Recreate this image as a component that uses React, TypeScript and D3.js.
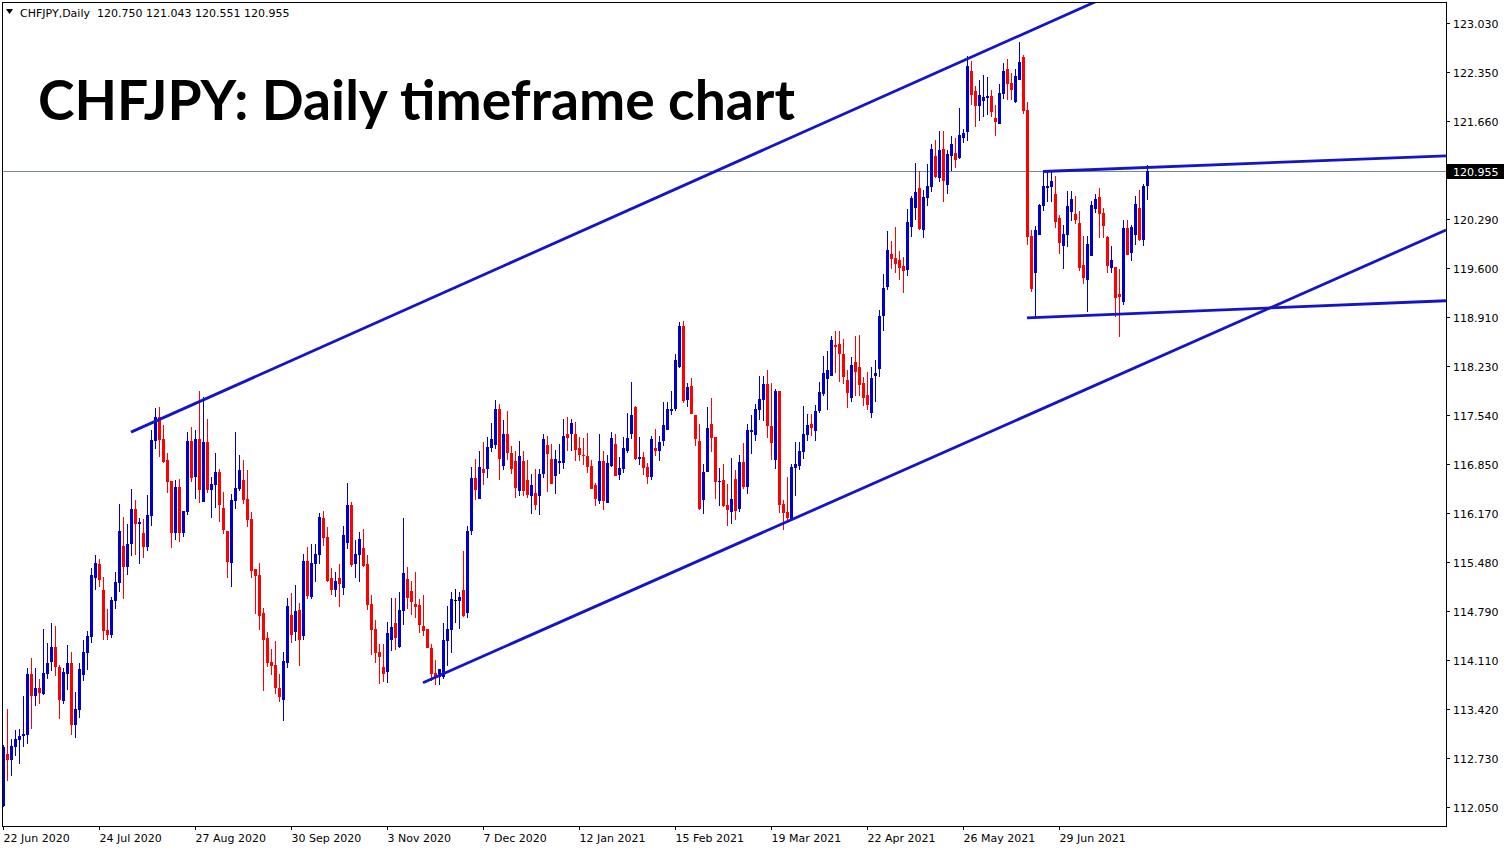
import React from 'react';
import * as d3 from 'd3';

// daily candles [open, high, low, close], 22 Jun 2020 onwards
const ohlc: [number, number, number, number][] = [
  [112.07, 112.92, 112.05, 112.89], [112.79, 113.42, 112.42, 112.71], [112.71, 113.00, 112.49, 112.91],
  [112.89, 113.13, 112.77, 113.00], [112.99, 113.14, 112.65, 113.05], [113.05, 113.61, 112.89, 113.07],
  [113.06, 114.00, 112.93, 113.91], [113.91, 114.14, 113.14, 113.61], [113.61, 114.00, 113.47, 113.71],
  [113.71, 113.84, 113.49, 113.65], [113.63, 114.54, 113.62, 113.93], [113.91, 114.35, 113.84, 114.07],
  [114.08, 114.63, 113.96, 114.29], [114.29, 114.59, 113.89, 114.01], [114.01, 114.04, 113.28, 113.55],
  [113.54, 114.00, 113.49, 113.94], [113.91, 114.32, 113.69, 114.07], [114.07, 114.22, 113.06, 113.20],
  [113.20, 113.66, 113.02, 113.42], [113.41, 114.07, 113.30, 113.98], [113.90, 114.39, 113.82, 114.22],
  [114.21, 114.52, 113.97, 114.45], [114.43, 115.40, 114.35, 115.30], [115.26, 115.58, 115.09, 115.47],
  [115.45, 115.52, 115.13, 115.23], [115.09, 115.27, 114.39, 114.52], [114.53, 114.83, 114.39, 114.46],
  [114.46, 114.99, 114.41, 114.95], [114.94, 115.34, 114.83, 115.20], [115.19, 116.29, 115.06, 115.92],
  [115.71, 116.11, 114.97, 115.41], [115.41, 116.02, 115.30, 115.74], [115.74, 116.50, 115.57, 116.22],
  [116.22, 116.35, 115.58, 116.02], [116.02, 116.10, 115.45, 116.04], [115.89, 116.08, 115.54, 115.69],
  [115.69, 116.42, 115.64, 116.14], [116.13, 117.33, 115.99, 117.19], [117.18, 117.64, 117.07, 117.51],
  [117.51, 117.65, 116.95, 117.19], [117.20, 117.40, 116.87, 116.88], [116.91, 117.01, 116.45, 116.60],
  [116.62, 116.62, 115.68, 115.89], [115.89, 116.63, 115.79, 116.53], [116.53, 116.64, 115.76, 115.89],
  [115.89, 116.20, 115.83, 116.20], [116.18, 117.30, 116.14, 117.18], [117.18, 117.37, 116.60, 116.66],
  [116.67, 117.33, 116.37, 117.21], [117.21, 117.88, 116.31, 116.49], [116.32, 117.79, 116.32, 117.16],
  [117.16, 117.49, 116.45, 116.49], [116.49, 116.67, 116.10, 116.58], [116.56, 117.01, 116.24, 116.74],
  [116.74, 116.79, 116.04, 116.28], [116.24, 116.46, 115.87, 115.93], [115.92, 115.92, 115.26, 115.48],
  [115.47, 116.44, 115.13, 116.35], [116.34, 117.30, 116.22, 116.52], [116.50, 116.98, 116.48, 116.77],
  [116.63, 116.91, 116.29, 116.35], [116.37, 116.77, 115.97, 116.07], [116.08, 116.18, 115.26, 115.36],
  [115.38, 115.38, 114.75, 115.29], [115.30, 115.47, 114.53, 114.73], [114.77, 114.84, 113.68, 114.39],
  [114.41, 114.50, 114.01, 114.07], [114.08, 114.26, 113.90, 114.03], [114.04, 114.38, 113.63, 113.71],
  [113.72, 113.91, 113.52, 113.59], [113.55, 114.22, 113.26, 114.10], [114.06, 114.98, 114.00, 114.87],
  [114.74, 115.05, 114.35, 114.46], [114.50, 115.16, 114.38, 114.80], [114.81, 114.91, 114.03, 114.39],
  [114.45, 115.60, 114.39, 115.50], [115.50, 115.69, 114.97, 115.01], [114.99, 115.74, 114.97, 115.47],
  [115.45, 115.74, 115.20, 115.60], [115.58, 116.17, 115.45, 116.11], [116.10, 116.20, 115.71, 115.82],
  [115.83, 115.97, 115.20, 115.22], [115.26, 115.40, 115.02, 115.09], [115.09, 115.34, 114.99, 115.22],
  [115.26, 115.45, 114.85, 115.18], [115.12, 115.99, 115.02, 115.86], [115.75, 116.59, 115.67, 116.28],
  [116.28, 116.32, 115.41, 115.44], [115.45, 115.79, 115.26, 115.60], [115.58, 115.90, 115.20, 115.81],
  [115.68, 115.95, 115.41, 115.43], [115.45, 115.58, 114.81, 114.88], [114.89, 115.02, 114.18, 114.53],
  [114.54, 114.67, 114.07, 114.21], [114.22, 114.33, 113.77, 114.15], [114.01, 114.33, 113.80, 113.91],
  [113.94, 114.64, 113.79, 114.48], [114.39, 114.98, 114.24, 114.57], [114.63, 114.98, 114.25, 114.42],
  [114.29, 115.06, 114.27, 114.81], [114.80, 116.10, 114.60, 115.33], [115.25, 115.41, 114.83, 114.98],
  [115.08, 115.22, 114.74, 114.92], [114.89, 115.34, 114.70, 114.85], [114.88, 114.97, 114.49, 114.60],
  [114.59, 115.02, 114.45, 114.52], [114.54, 114.54, 114.27, 114.27], [114.28, 114.33, 113.82, 113.91],
  [113.93, 114.11, 113.76, 113.87], [113.87, 113.98, 113.76, 113.98], [113.87, 114.62, 113.84, 114.39],
  [114.38, 114.87, 114.03, 114.54], [114.53, 115.06, 114.21, 114.97], [114.95, 115.11, 114.63, 114.95],
  [114.94, 115.06, 114.54, 114.99], [115.09, 115.64, 114.71, 114.73], [114.77, 115.99, 114.69, 115.92],
  [115.92, 116.81, 115.86, 116.66], [116.66, 116.92, 116.35, 116.49], [116.37, 117.04, 116.37, 116.81],
  [116.79, 117.16, 116.56, 116.73], [116.79, 117.23, 116.66, 117.09], [117.08, 117.43, 117.02, 117.20],
  [117.12, 117.75, 117.07, 117.62], [117.62, 117.69, 116.63, 116.92], [116.83, 117.47, 116.77, 117.27],
  [117.27, 117.60, 116.91, 117.01], [117.01, 117.11, 116.71, 116.79], [116.90, 117.04, 116.38, 116.52],
  [116.48, 117.18, 116.41, 116.97], [116.90, 117.04, 116.41, 116.48], [116.63, 116.91, 116.38, 116.42],
  [116.41, 116.71, 116.15, 116.56], [116.45, 116.79, 116.21, 116.28], [116.41, 116.79, 116.14, 116.71],
  [116.71, 117.27, 116.66, 117.20], [117.12, 117.25, 116.46, 116.99], [116.92, 117.13, 116.58, 116.58],
  [116.69, 117.05, 116.43, 116.92], [116.87, 117.13, 116.71, 116.90], [116.87, 117.49, 116.79, 117.25],
  [117.27, 117.51, 117.04, 117.22], [117.27, 117.49, 117.04, 117.43], [117.27, 117.44, 116.90, 117.05],
  [117.08, 117.23, 116.90, 116.98], [116.98, 117.22, 116.84, 116.97], [116.97, 117.29, 116.73, 116.81],
  [116.83, 116.91, 116.50, 116.50], [116.56, 116.59, 116.27, 116.37], [116.34, 117.27, 116.29, 116.90],
  [116.90, 117.04, 116.21, 116.34], [116.31, 116.98, 116.31, 116.87], [116.83, 117.30, 116.81, 117.22],
  [117.13, 117.27, 116.69, 116.69], [116.70, 116.95, 116.63, 116.80], [116.79, 117.23, 116.73, 117.08],
  [117.04, 117.57, 117.01, 117.22], [117.27, 118.00, 117.20, 117.54], [117.65, 117.67, 116.91, 116.92],
  [116.92, 117.23, 116.84, 116.95], [116.95, 117.02, 116.70, 116.80], [116.81, 116.87, 116.58, 116.67],
  [116.67, 117.25, 116.63, 117.20], [117.08, 117.35, 116.97, 117.04], [117.04, 117.25, 116.90, 117.16],
  [117.18, 117.72, 117.11, 117.40], [117.33, 117.72, 117.33, 117.62], [117.60, 117.88, 117.54, 117.62],
  [117.62, 118.39, 117.60, 118.31], [118.21, 118.84, 118.20, 118.79], [118.79, 118.86, 117.71, 117.74],
  [117.75, 117.99, 117.65, 117.93], [117.95, 118.06, 117.56, 117.56], [117.54, 117.54, 117.11, 117.20],
  [117.18, 117.42, 116.21, 116.22], [116.35, 116.85, 116.15, 116.74], [116.74, 117.65, 116.74, 117.36],
  [117.42, 117.78, 117.02, 117.22], [117.23, 117.23, 116.37, 116.60], [116.60, 116.80, 116.27, 116.62],
  [116.63, 116.85, 116.25, 116.27], [116.28, 116.58, 115.99, 116.21], [116.18, 116.94, 116.02, 116.37],
  [116.64, 116.77, 116.07, 116.20], [116.22, 116.98, 116.18, 116.88], [116.88, 117.15, 116.50, 116.53],
  [116.53, 117.42, 116.44, 117.33], [117.30, 117.54, 116.99, 117.33], [117.26, 117.69, 117.18, 117.62],
  [117.61, 118.09, 117.47, 117.76], [117.75, 118.09, 117.46, 117.97], [117.97, 118.17, 117.22, 117.39],
  [117.39, 117.99, 116.91, 117.15], [116.91, 117.90, 116.79, 117.88], [117.88, 117.88, 116.17, 116.28],
  [116.29, 116.35, 115.93, 116.17], [116.18, 116.67, 116.07, 116.10], [116.07, 116.85, 116.07, 116.81],
  [116.80, 117.16, 116.41, 116.85], [116.83, 117.16, 116.77, 117.04], [117.02, 117.67, 116.92, 117.27],
  [117.26, 117.56, 117.18, 117.40], [117.42, 117.56, 117.25, 117.36], [117.32, 117.68, 117.18, 117.60],
  [117.60, 118.00, 117.57, 117.86], [117.83, 118.37, 117.81, 118.13], [118.05, 118.44, 117.61, 118.17],
  [118.09, 118.65, 118.09, 118.59], [118.52, 118.72, 118.13, 118.49], [118.54, 118.72, 118.00, 118.40],
  [118.40, 118.61, 117.97, 118.07], [118.03, 118.17, 117.64, 117.85], [117.78, 118.35, 117.72, 118.24],
  [118.28, 118.65, 117.81, 118.14], [118.21, 118.66, 117.81, 117.96], [117.99, 118.07, 117.67, 117.78],
  [117.82, 118.14, 117.61, 117.68], [117.57, 118.21, 117.50, 118.06], [118.09, 118.31, 117.72, 118.13],
  [118.19, 119.01, 118.07, 118.93], [118.93, 119.52, 118.72, 119.32], [119.33, 120.12, 119.29, 119.85],
  [119.80, 119.98, 119.59, 119.73], [119.74, 120.17, 119.53, 119.66], [119.71, 119.83, 119.43, 119.60],
  [119.63, 119.75, 119.25, 119.56], [119.57, 120.43, 119.49, 120.24], [120.17, 120.61, 120.03, 120.58],
  [120.44, 121.07, 120.27, 120.66], [120.72, 120.96, 120.13, 120.15], [120.13, 120.69, 120.02, 120.59],
  [120.58, 121.06, 120.47, 120.75], [120.73, 121.34, 120.66, 121.27], [121.17, 121.39, 120.86, 120.87],
  [120.86, 121.52, 120.80, 121.25], [121.27, 121.52, 120.52, 120.82], [120.76, 121.25, 120.64, 121.20],
  [121.17, 121.45, 120.96, 121.34], [121.21, 121.42, 121.00, 121.11], [121.14, 121.84, 121.13, 121.46],
  [121.42, 121.54, 121.35, 121.49], [121.50, 122.57, 121.38, 122.43], [122.36, 122.50, 121.88, 122.02],
  [122.08, 122.15, 121.57, 121.87], [121.87, 122.23, 121.66, 122.02], [121.94, 122.30, 121.71, 121.99],
  [121.98, 122.27, 121.74, 122.01], [122.01, 122.09, 121.71, 121.78], [121.70, 121.88, 121.45, 121.64],
  [121.62, 122.18, 121.62, 122.05], [122.04, 122.47, 121.97, 122.36], [122.39, 122.53, 121.95, 122.18],
  [122.19, 122.33, 121.95, 122.09], [121.92, 122.39, 121.91, 122.29], [122.23, 122.76, 122.23, 122.48],
  [122.55, 122.58, 121.76, 121.80], [121.81, 121.92, 119.92, 120.03], [120.05, 120.13, 119.26, 119.31],
  [119.53, 120.19, 118.91, 120.13], [120.06, 120.50, 120.06, 120.48], [120.47, 120.96, 120.40, 120.75],
  [120.72, 120.96, 120.52, 120.75], [120.73, 120.96, 120.52, 120.82], [120.64, 120.89, 120.16, 120.24],
  [120.30, 120.34, 119.80, 119.95], [119.91, 120.20, 119.59, 120.08], [120.06, 120.68, 119.89, 120.47],
  [120.38, 120.68, 120.26, 120.57], [120.36, 120.61, 120.22, 120.27], [120.23, 120.40, 119.56, 119.60],
  [119.64, 120.05, 119.38, 119.46], [119.43, 120.05, 118.98, 119.94], [119.77, 120.54, 119.77, 120.48],
  [120.43, 120.64, 120.37, 120.57], [120.59, 120.72, 120.02, 120.36], [120.37, 120.44, 120.02, 120.19],
  [120.03, 120.05, 119.53, 119.63], [119.60, 119.91, 119.53, 119.71], [119.61, 119.61, 118.91, 119.18],
  [119.24, 119.59, 118.63, 119.19], [119.12, 120.27, 119.08, 120.16], [120.16, 120.27, 119.78, 119.78],
  [119.81, 120.20, 119.70, 120.17], [120.06, 120.61, 119.92, 120.50], [120.44, 120.69, 119.98, 119.99],
  [119.99, 120.78, 119.91, 120.75], [120.75, 121.043, 120.551, 120.955],
];

const dateLabels = ['22 Jun 2020', '24 Jul 2020', '27 Aug 2020', '30 Sep 2020', '3 Nov 2020', '7 Dec 2020',
  '12 Jan 2021', '15 Feb 2021', '19 Mar 2021', '22 Apr 2021', '26 May 2021', '29 Jun 2021'];
const dateBars = [0, 24, 48, 72, 96, 120, 144, 168, 192, 216, 240, 264];

const priceTicks = ['123.030', '122.350', '121.660', '120.290', '119.600', '118.910', '118.230', '117.540',
  '116.850', '116.170', '115.480', '114.790', '114.110', '113.420', '112.730', '112.050'];

const lastPrice = 120.955;

// drawn lines: [[bar, price], [bar, price]]
const trendLines: [number, number][][] = [
  [[32, 117.30], [300, 124.00]],
  [[105, 113.79], [360.75, 120.13]],
  [[260, 120.95], [360.75, 121.17]],
  [[256, 118.90], [360.75, 119.14]],
];

const BLUE = '#0000CD';
const RED = '#FF0000';
const LINE_BLUE = '#1414C8';

const App = () => {
  const W = 1510;
  const H = 850;
  const left = 2, right = 1446, top = 2, bottom = 826;

  const x = d3.scaleLinear().domain([0, 360.75]).range([3, 1446]);
  const y = d3.scaleLinear().domain([112.05, 123.03]).range([807, 23]);

  const line = d3.line<[number, number]>()
    .x(d => x(d[0]))
    .y(d => y(d[1]));

  const axisFont = '"DejaVu Sans", sans-serif';

  return (
    <svg width={W} height={H} style={{ position: 'absolute', left: 0, top: 0, background: '#fff' }}>
      <defs>
        <clipPath id="plot">
          <rect x={left + 1} y={top + 1} width={right - left - 1} height={bottom - top - 1} />
        </clipPath>
      </defs>
      <rect x={0} y={0} width={W} height={H} fill="#fff" />

      {/* current price line */}
      <line x1={left} x2={right} y1={Math.round(y(lastPrice)) + 0.5} y2={Math.round(y(lastPrice)) + 0.5}
        stroke="#778899" strokeWidth={1} />

      {/* candles */}
      <g shapeRendering="crispEdges">
        {ohlc.map(([o, h, l, c], i) => {
          const cx = Math.round(x(i));
          const color = c > o ? BLUE : c < o ? RED : '#000';
          const yt = Math.round(y(Math.max(o, c)));
          const yb = Math.round(y(Math.min(o, c)));
          return (
            <g key={i}>
              <rect x={cx} y={Math.round(y(h))} width={1} height={Math.max(1, Math.round(y(l)) - Math.round(y(h)))} fill={color} />
              <rect x={cx - 1} y={yt} width={3} height={Math.max(1, yb - yt)} fill={color} />
            </g>
          );
        })}
      </g>

      {/* trend lines */}
      <g clipPath="url(#plot)">
        {trendLines.map((pts, i) => (
          <path key={i} d={line(pts) ?? ''} fill="none" stroke={LINE_BLUE} strokeWidth={2.8} />
        ))}
      </g>

      {/* frame */}
      <rect x={left + 0.5} y={top + 0.5} width={right - left} height={bottom - top} fill="none" stroke="#000" strokeWidth={1} />

      {/* price axis */}
      <g fontFamily={axisFont} fontSize={11} fill="#000">
        {priceTicks.map(t => {
          const yy = Math.round(y(parseFloat(t))) + 0.5;
          return (
            <g key={t}>
              <line x1={right} x2={right + 4} y1={yy} y2={yy} stroke="#000" />
              <text x={right + 7} y={yy + 4}>{t}</text>
            </g>
          );
        })}
        <rect x={right + 1} y={Math.round(y(lastPrice)) - 7} width={57} height={15} fill="#000" />
        <text x={right + 7} y={Math.round(y(lastPrice)) + 4.5} fill="#fff">{lastPrice.toFixed(3)}</text>
      </g>

      {/* date axis */}
      <g fontFamily={axisFont} fontSize={11} fill="#000">
        {dateLabels.map((d, k) => {
          const xx = Math.round(x(dateBars[k])) + 0.5;
          return (
            <g key={d}>
              <line x1={xx} x2={xx} y1={bottom} y2={bottom + 4} stroke="#000" />
              <text x={xx} y={842}>{d}</text>
            </g>
          );
        })}
      </g>

      {/* header */}
      <path d="M6,9 L13,9 L9.5,14 Z" fill="#000" />
      <text x={20} y={17} fontFamily={axisFont} fontSize={11} fill="#000" xmlSpace="preserve">
        {'CHFJPY,Daily  120.750 121.043 120.551 120.955'}
      </text>

      {/* title */}
      <text x={38} y={120} fontFamily="Lato, sans-serif" fontWeight={700} fontSize={55}
        textLength={757} lengthAdjust="spacingAndGlyphs" fill="#000">
        CHFJPY: Daily timeframe chart
      </text>
    </svg>
  );
};

export default App;
